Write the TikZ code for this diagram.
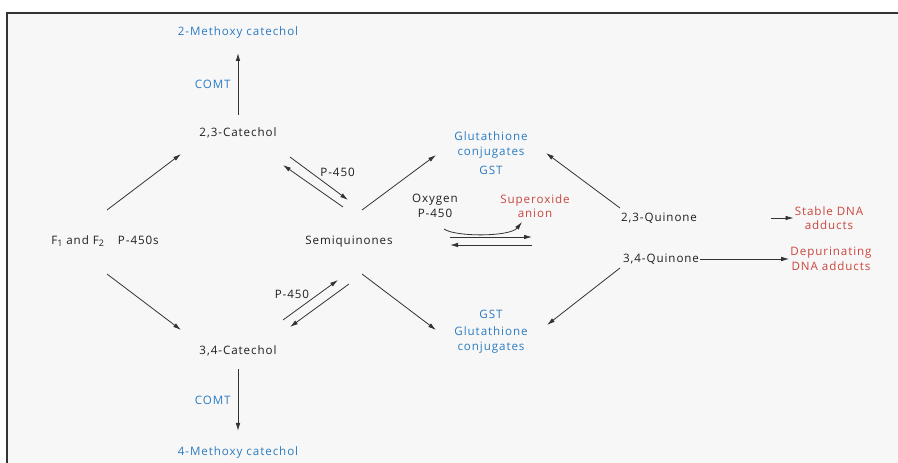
\documentclass[tikz,border=0pt]{standalone}
\usepackage{fontspec}
\setmainfont{Open Sans}[LetterSpace=8]
\usetikzlibrary{arrows,arrows.meta}
\usetikzlibrary{calc}

\definecolor{inkgrey}{HTML}{1E1E1E}
\definecolor{pathblue}{HTML}{2B7CC2}
\definecolor{pathred}{HTML}{C9463D}
\definecolor{panel}{HTML}{F7F7F7}
\definecolor{framegrey}{HTML}{333333}

\newcommand{\lowidx}[1]{\raisebox{-2.2pt}{\fontsize{9}{9}\selectfont #1}}

\begin{document}
\begin{tikzpicture}[x=1pt, y=1pt,
  line/.style={>={Latex[length=8pt, width=4.5pt]}, draw=framegrey, line width=0.8pt},
  txt/.style={font=\fontsize{11.6}{14.5}\selectfont, text=inkgrey, align=center, inner sep=1pt},
  enz/.style={txt, text=pathblue},
  prod/.style={txt, text=pathred}]
\useasboundingbox (0,0) rectangle (898,463);
\fill[panel] (7,0) rectangle (898,450);
\draw[framegrey, line width=2pt] (7,0) -- (7,450) -- (898,450);

% left half
\node[enz] (meth2) at (238,431) {2-Methoxy catechol};
\node[txt] (cat23) at (238,330) {2,3-Catechol};
\node[txt] (src) at (105,222) {F\lowidx{1} and F\lowidx{2}\hspace{14pt}P-450s};
\node[txt] (cat34) at (238,112) {3,4-Catechol};
\node[enz] (meth4) at (238,11) {4-Methoxy catechol};
\node[txt] (semi) at (349,221) {Semiquinones};

% right half
\node[enz] (gtop) at (491,318) {Glutathione\\conjugates};
\node[enz] (gsttop) at (491,293) {GST};
\node[enz] (gstbot) at (491,149) {GST};
\node[enz] (gbot) at (491,123) {Glutathione\\conjugates};
\node[txt] (oxy) at (435,257) {Oxygen\\P-450};
\node[prod] (superox) at (535,257) {Superoxide\\anion};
\node[txt] (q23) at (659,245) {2,3-Quinone};
\node[txt] (q34) at (661,204) {3,4-Quinone};
\node[prod] (stable) at (829,245) {Stable DNA\\adducts};
\node[prod] (depur) at (831,204) {Depurinating\\DNA adducts};

\coordinate (stabtail) at (771,245);
\coordinate (eqtop) at (450,226);
\coordinate (eqbot) at (532,218);

\draw[->, line] ([yshift=18]cat23.center) -- node[enz, left=6pt] {COMT} ([yshift=-21]meth2.center);
\draw[->, line] ([yshift=-18]cat34.center) -- node[enz, left=6pt] {COMT} ([yshift=21]meth4.center);
\draw[->, line] ([shift={(2,31)}]src.center) -- ([shift={(-57,-21)}]cat23.center);
\draw[->, line] ([shift={(2,-33)}]src.center) -- ([shift={(-57,21)}]cat34.center);

\draw[->, line] ([shift={(52,-24)}]cat23.center) -- node[txt, above right] {P-450} ([shift={(-1,42)}]semi.center);
\draw[->, line] ([shift={(-6,35)}]semi.center) -- ([shift={(45,-32)}]cat23.center);
\draw[->, line] ([shift={(45,31)}]cat34.center) -- node[txt, above left] {P-450} ([shift={(-11,-38)}]semi.center);
\draw[->, line] ([shift={(0,-42)}]semi.center) -- ([shift={(52,24)}]cat34.center);

\draw[->, line] ([shift={(13,32)}]semi.center) -- ([shift={(-55,-10)}]gtop.center);
\draw[->, line] ([shift={(13,-32)}]semi.center) -- ([shift={(-55,10)}]gbot.center);
\draw[->, line] ([shift={(-39,10)}]q23.center) -- ([shift={(55,-8)}]gtop.center);
\draw[->, line] ([shift={(-41,-9)}]q34.center) -- ([shift={(56,15)}]gbot.center);

\draw[->, line] ([shift={(9,-23)}]oxy.center) .. controls (455,226) and (510,226) .. ([shift={(-13,-16)}]superox.center);
\draw[->, line] (eqtop) -- (eqtop -| eqbot);
\draw[->, line] (eqbot) -- (eqbot -| eqtop);

\draw[->, line] (q34.east) -- (depur.west);
\draw[->, line] (stabtail) -- (stable.west);
\end{tikzpicture}
\end{document}
